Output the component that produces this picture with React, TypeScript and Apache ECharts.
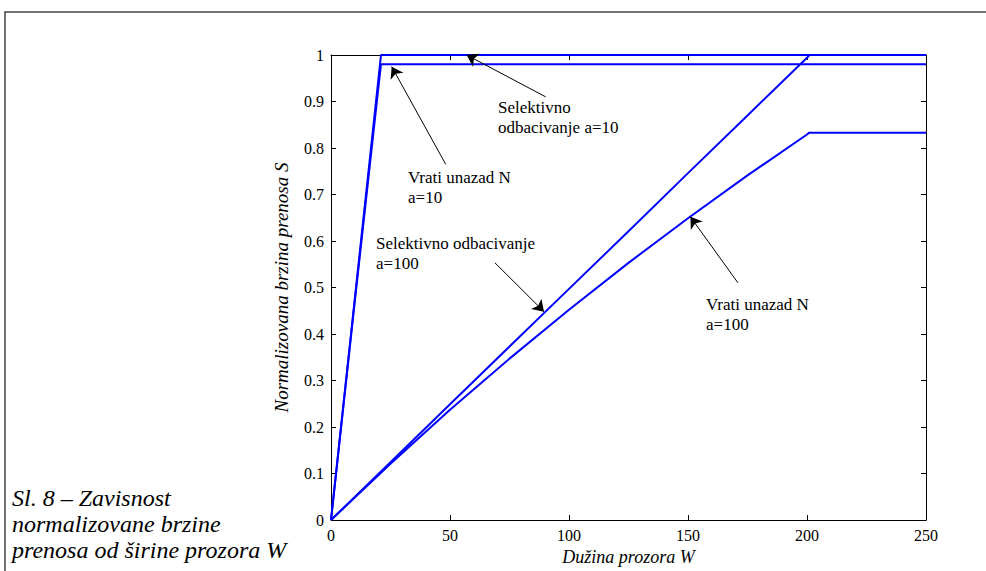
import React, { useEffect, useRef } from "react";
import * as echarts from "echarts";

// Window length W and normalized throughput S
const W_SR10 = [0, 10, 20, 21, 250];
const S_SR10 = [0, 0.476, 0.952, 1.0, 1.0];

const W_GBN10 = [0, 10, 20, 21, 250];
const S_GBN10 = [0, 0.47, 0.934, 0.98, 0.98];

const W_SR100 = [0, 25, 50, 75, 100, 125, 150, 175, 200, 201, 250];
const S_SR100 = [0, 0.124, 0.249, 0.373, 0.497, 0.621, 0.746, 0.87, 0.994, 1.0, 1.0];

const W_GBN100 = [0, 25, 50, 75, 100, 125, 150, 175, 200, 201, 250];
const S_GBN100 = [0, 0.121, 0.237, 0.347, 0.452, 0.553, 0.649, 0.741, 0.829, 0.833, 0.833];

// Arrow annotations: [tailW, tailS, headW, headS]
const ARROWS = [
  [90.2, 0.91, 57, 1.0],
  [48.2, 0.765, 25.5, 0.975],
  [68.9, 0.553, 89.5, 0.448],
  [171, 0.51, 151, 0.652],
];

const X_NAME = "Dužina prozora W";
const Y_NAME = "Normalizovana brzina prenosa S";
const CAPTION = "Sl. 8 – Zavisnost\nnormalizovane brzine\nprenosa od širine prozora W";
const NOTE_SR10 = "Selektivno\nodbacivanje a=10";
const NOTE_GBN10 = "Vrati unazad N\na=10";
const NOTE_SR100 = "Selektivno odbacivanje\na=100";
const NOTE_GBN100 = "Vrati unazad N\na=100";

const SERIF = "Liberation Serif";

function pairs(xs: number[], ys: number[]) {
  return xs.map((x, i) => [x, ys[i]]);
}

export default function App() {
  const ref = useRef<HTMLDivElement>(null);
  useEffect(() => {
    if (!ref.current) return;
    const chart = echarts.init(ref.current, undefined, { renderer: "svg" });
    const axisCommon = {
      type: "value" as const,
      axisLine: { show: true, onZero: false, lineStyle: { color: "#000", width: 1 } },
      axisTick: { show: true, inside: true, length: 5, lineStyle: { color: "#000", width: 1 } },
      splitLine: { show: false },
    };
    const lineSeries = (name: string, data: number[][]) => ({
      type: "line",
      name,
      data,
      showSymbol: false,
      symbol: "none",
      lineStyle: { color: "#0000ff", width: 2 },
      z: 3,
    });
    const noteText = (x: number, y: number, text: string) => ({
      type: "text",
      x,
      y,
      style: {
        text,
        fontFamily: SERIF,
        fontSize: 17,
        fill: "#000",
        lineHeight: 20,
      },
    });
    chart.setOption({
      animation: false,
      backgroundColor: "#fff",
      grid: { left: 331, right: 60, top: 55, bottom: 48, show: false },
      xAxis: [
        {
          ...axisCommon,
          position: "bottom",
          min: 0,
          max: 250,
          interval: 50,
          axisLabel: { color: "#000", fontFamily: SERIF, fontSize: 16, margin: 7 },
          name: X_NAME,
          nameLocation: "middle",
          nameGap: 28,
          nameTextStyle: { color: "#000", fontFamily: SERIF, fontSize: 18, fontStyle: "italic" },
        },
        {
          ...axisCommon,
          position: "top",
          min: 0,
          max: 250,
          interval: 50,
          axisLabel: { show: false },
        },
      ],
      yAxis: [
        {
          ...axisCommon,
          position: "left",
          min: 0,
          max: 1,
          interval: 0.1,
          axisLabel: {
            color: "#000",
            fontFamily: SERIF,
            fontSize: 16,
            margin: 7,
            formatter: (v: number) => String(Math.round(v * 10) / 10),
          },
          name: Y_NAME,
          nameLocation: "middle",
          nameGap: 40,
          nameTextStyle: { color: "#000", fontFamily: SERIF, fontSize: 19, fontStyle: "italic" },
        },
        {
          ...axisCommon,
          position: "right",
          min: 0,
          max: 1,
          interval: 0.1,
          axisLabel: { show: false },
        },
      ],
      series: [
        lineSeries("SR a=10", pairs(W_SR10, S_SR10)),
        lineSeries("GBN a=10", pairs(W_GBN10, S_GBN10)),
        lineSeries("SR a=100", pairs(W_SR100, S_SR100)),
        {
          ...lineSeries("GBN a=100", pairs(W_GBN100, S_GBN100)),
          markLine: {
            silent: true,
            symbol: ["none", "arrow"],
            symbolSize: 11,
            label: { show: false },
            lineStyle: { color: "#000", width: 1, type: "solid" },
            emphasis: { disabled: true },
            data: ARROWS.map((a) => [
              { coord: [a[0], a[1]] },
              { coord: [a[2], a[3]] },
            ]),
          },
        },
      ],
      graphic: [
        {
          type: "rect",
          shape: { x: 5, y: 12, width: 1100, height: 700 },
          style: { fill: "none", stroke: "#444", lineWidth: 1.5 },
          z: -1,
        },
        noteText(498, 97, NOTE_SR10),
        noteText(408, 167, NOTE_GBN10),
        noteText(376, 233, NOTE_SR100),
        noteText(706, 294, NOTE_GBN100),
        {
          type: "text",
          x: 12,
          y: 485,
          style: {
            text: CAPTION,
            fontFamily: SERIF,
            fontSize: 24,
            fontStyle: "italic",
            fill: "#000",
            lineHeight: 26,
          },
        },
      ],
    });
    return () => chart.dispose();
  }, []);
  return (
    <div
      ref={ref}
      style={{ position: "absolute", left: 0, top: 0, width: 986, height: 571, background: "#fff" }}
    />
  );
}
